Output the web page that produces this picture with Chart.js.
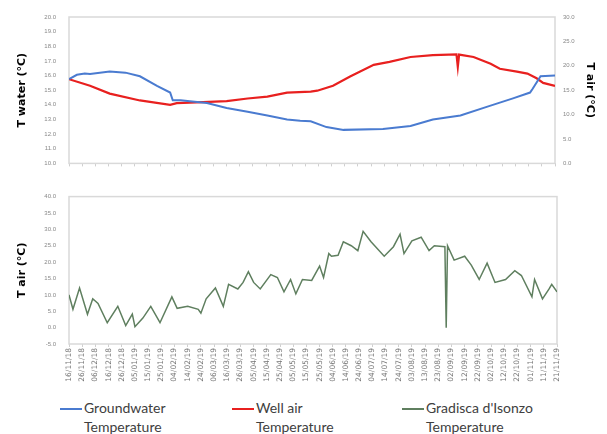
<!DOCTYPE html>
<html>
<head>
<meta charset="utf-8">
<script src="https://cdn.jsdelivr.net/npm/chart.js"></script>
<style>
  html, body { margin: 0; padding: 0; background: #fff; }
  #wrap { position: relative; width: 607px; height: 434px; overflow: hidden; }
  #top { position: absolute; left: 0; top: 0; }
  #bottom { position: absolute; left: 0; top: 180px; }
  .leg { position: absolute; top: 398px; font: 14px Lato, sans-serif; color: #404040; line-height: 19px; }
  .leg i { position: absolute; left: 0; top: 10px; width: 22px; height: 2px; }
  .leg span { display: block; padding-left: 24px; }
</style>
</head>
<body>
<div id="wrap">
  <canvas id="top" width="607" height="180"></canvas>
  <canvas id="bottom" width="607" height="210"></canvas>
  <div class="leg" style="left:60px"><i style="background:#4a7bd0"></i><span>Groundwater</span><span>Temperature</span></div>
  <div class="leg" style="left:232px"><i style="background:#e8201f"></i><span>Well air</span><span>Temperature</span></div>
  <div class="leg" style="left:402px"><i style="background:#5f7f5f"></i><span>Gradisca d'Isonzo</span><span>Temperature</span></div>
</div>
<script>
// x tick labels, one every 10 days from 16/11/18
const dateLabels = ['16/11/18','26/11/18','06/12/18','16/12/18','26/12/18','05/01/19','15/01/19','25/01/19',
  '04/02/19','14/02/19','24/02/19','06/03/19','16/03/19','26/03/19','05/04/19','15/04/19','25/04/19',
  '05/05/19','15/05/19','25/05/19','04/06/19','14/06/19','24/06/19','04/07/19','14/07/19','24/07/19',
  '03/08/19','13/08/19','23/08/19','02/09/19','12/09/19','22/09/19','02/10/19','12/10/19','22/10/19',
  '01/11/19','11/11/19','21/11/19'];

// groundwater temperature (left axis, T water)
const gwDays = [0, 6, 12, 16, 31, 43, 54, 67, 77, 79, 85, 92, 105, 120, 136, 151, 166, 176, 184, 196, 209, 239, 260, 277, 298, 318, 338, 351, 353, 359, 370];
const gwTemp = [15.75, 16.05, 16.14, 16.1, 16.27, 16.2, 15.95, 15.3, 14.84, 14.31, 14.31, 14.25, 14.12, 13.79, 13.53, 13.27, 13.0, 12.92, 12.88, 12.48, 12.29, 12.35, 12.55, 13.0, 13.27, 13.86, 14.44, 14.84, 15.1, 15.95, 16.0];

// well air temperature (right axis, T air)
const wellDays = [0, 16, 31, 54, 77, 82, 102, 120, 136, 151, 166, 184, 189, 201, 214, 232, 244, 260, 277, 295, 296, 297, 308, 321, 328, 341, 349, 356, 361, 370];
const wellTemp = [17.25, 15.9, 14.3, 12.9, 12.0, 12.35, 12.55, 12.75, 13.3, 13.7, 14.5, 14.7, 14.9, 15.9, 17.8, 20.2, 20.8, 21.8, 22.2, 22.35, 19.8, 22.3, 21.8, 20.4, 19.4, 18.8, 18.4, 17.45, 16.5, 15.9];

// Gradisca d'Isonzo air temperature (bottom chart)
const airDays = [0, 3, 8, 14, 18, 22, 29, 37, 43, 48, 50, 56, 62, 69, 78, 82, 90, 98, 100, 104, 111, 117, 121, 128, 132, 136, 140, 145, 153, 158, 163, 168, 172, 177, 184, 190, 193, 197, 199, 204, 208, 214, 219, 223, 229, 239, 246, 251, 254, 260, 267, 273, 277, 285, 286, 287, 292, 300, 305, 311, 317, 323, 331, 338, 343, 351, 353, 359, 364, 366, 370];
const airTemp = [10.0, 5.6, 12.1, 4.1, 8.8, 7.4, 1.5, 6.5, 0.6, 4.1, 0.3, 2.9, 6.5, 1.5, 9.4, 5.9, 6.5, 5.6, 4.4, 8.8, 12.1, 6.5, 13.2, 11.8, 13.8, 17.1, 13.8, 11.8, 16.2, 15.3, 10.9, 14.7, 10.3, 14.7, 14.4, 18.8, 15.3, 22.6, 21.8, 22.1, 26.2, 25.0, 23.5, 29.4, 26.2, 21.8, 24.7, 28.5, 22.6, 26.5, 27.6, 23.5, 25.0, 24.7, 0.0, 25.0, 20.6, 21.8, 19.1, 14.7, 19.7, 13.8, 14.7, 17.4, 15.9, 9.4, 14.7, 8.8, 11.8, 13.2, 10.9];

const pts = (xs, ys) => xs.map((x, i) => ({ x, y: ys[i] }));

const frame = {
  id: 'frame',
  beforeDatasetsDraw(chart) {
    const a = chart.chartArea, c = chart.ctx;
    c.save();
    c.strokeStyle = '#d9d9d9';
    c.lineWidth = 1.5;
    c.strokeRect(a.left, a.top, a.right - a.left, a.bottom - a.top);
    c.restore();
  }
};

const tickFont = { family: 'Liberation Sans', size: 6 };
const titleFont = { family: 'DejaVu Sans', size: 11, weight: 'bold' };

function xAxis(showLabels, h) {
  return {
    type: 'linear', min: 0, max: 370,
    grid: { display: true, drawOnChartArea: false, drawTicks: true, tickLength: 3, color: '#cfcfcf' },
    border: { display: false },
    ticks: {
      display: showLabels, stepSize: 10, autoSkip: false, minRotation: 90, maxRotation: 90,
      padding: 1, color: '#777', font: { family: 'DejaVu Sans', size: 7.5 },
      callback: v => dateLabels[Math.round(v / 10)]
    },
    afterFit: s => { s.height = h; }
  };
}

function yAxis(pos, min, max, step, title, w, pad) {
  return {
    position: pos, min, max,
    grid: { display: false, drawTicks: false },
    border: { display: false },
    ticks: { stepSize: step, padding: pad, color: '#888', font: tickFont, callback: v => v.toFixed(1) },
    title: { display: true, text: title, color: '#000', font: titleFont, padding: 4 },
    afterFit: s => { s.width = w; }
  };
}

new Chart(document.getElementById('top'), {
  type: 'line',
  data: {
    datasets: [
      { label: 'Groundwater Temperature', data: pts(gwDays, gwTemp), yAxisID: 'y',
        borderColor: '#4a7bd0', borderWidth: 2, pointRadius: 0, tension: 0 },
      { label: 'Well air Temperature', data: pts(wellDays, wellTemp), yAxisID: 'yR',
        borderColor: '#e8201f', borderWidth: 2.2, pointRadius: 0, tension: 0 }
    ]
  },
  options: {
    responsive: false, animation: false, parsing: true,
    layout: { padding: { left: 12, right: 7, top: 17, bottom: 0 } },
    plugins: { legend: { display: false }, tooltip: { enabled: false } },
    scales: {
      x: xAxis(false, 8),
      y: yAxis('left', 10, 20, 1, 'T water (°C)', 57, 13),
      yR: yAxis('right', 0, 30, 5, 'T air (°C)', 45, 8)
    }
  },
  plugins: [frame]
});

new Chart(document.getElementById('bottom'), {
  type: 'line',
  data: {
    datasets: [
      { label: "Gradisca d'Isonzo Temperature", data: pts(airDays, airTemp),
        borderColor: '#5f7f5f', borderWidth: 1.5, pointRadius: 0, tension: 0 }
    ]
  },
  options: {
    responsive: false, animation: false,
    layout: { padding: { left: 12, right: 50, top: 10, bottom: 0 } },
    plugins: { legend: { display: false }, tooltip: { enabled: false } },
    scales: {
      x: xAxis(true, 46),
      y: yAxis('left', -5, 40, 5, 'T air (°C)', 57, 13)
    }
  },
  plugins: [frame]
});
</script>
</body>
</html>
